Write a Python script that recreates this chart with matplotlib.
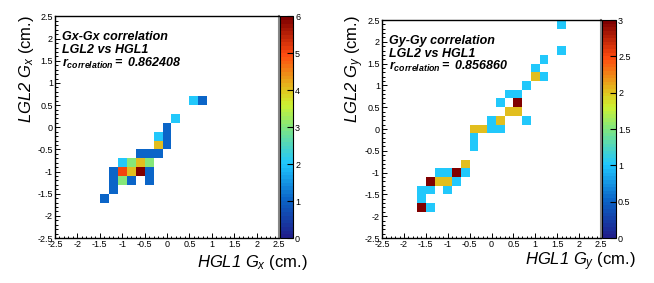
import numpy as np
import matplotlib
matplotlib.use("Agg")
import matplotlib.pyplot as plt
from matplotlib.colors import LinearSegmentedColormap, Normalize
from matplotlib.ticker import MultipleLocator

plt.rcParams['font.family'] = ['Liberation Sans', 'DejaVu Sans']
plt.rcParams['mathtext.fontset'] = 'custom'
plt.rcParams['mathtext.rm'] = 'Liberation Sans:italic'
plt.rcParams['mathtext.it'] = 'Liberation Sans:italic'
plt.rcParams['mathtext.bf'] = 'Liberation Sans:bold'
plt.rcParams['mathtext.bfit'] = 'Liberation Sans:bold:italic'

# bin centres (cm) and counts
gx_hgl1 = [0.6, 0.8, 0.2, 0.0, 0.0, 0.0, -0.2, -0.2, -0.6, -0.4, -0.2,
           -1.0, -0.8, -0.6, -0.4, -1.2, -1.0, -0.8, -0.6, -0.4,
           -1.2, -1.0, -0.8, -0.4, -1.2, -1.4]
gx_lgl2 = [0.6, 0.6, 0.2, 0.0, -0.2, -0.4, -0.2, -0.4, -0.6, -0.6, -0.6,
           -0.8, -0.8, -0.8, -0.8, -1.0, -1.0, -1.0, -1.0, -1.0,
           -1.2, -1.2, -1.2, -1.2, -1.4, -1.6]
gx_counts = [2, 1, 2, 1, 1, 1, 2, 4, 1, 1, 1,
             2, 3, 4, 3, 1, 5, 4, 6, 1,
             1, 3, 1, 1, 1, 1]

gy_hgl1 = [1.6, 1.6, 1.2, 1.0, 1.0, 1.2, 0.8, 0.4, 0.6, 0.2, 0.6, 0.4, 0.6,
           0.0, 0.2, 0.8, -0.4, -0.2, 0.0, 0.2, -0.4, -0.4, -0.6,
           -1.2, -1.0, -0.8, -0.6, -1.4, -1.2, -1.0, -0.8,
           -1.6, -1.4, -1.0, -1.6, -1.6, -1.4]
gy_lgl2 = [2.4, 1.8, 1.6, 1.4, 1.2, 1.2, 1.0, 0.8, 0.8, 0.6, 0.6, 0.4, 0.4,
           0.2, 0.2, 0.2, 0.0, 0.0, 0.0, 0.0, -0.2, -0.4, -0.8,
           -1.0, -1.0, -1.0, -1.0, -1.2, -1.2, -1.2, -1.2,
           -1.4, -1.4, -1.4, -1.6, -1.8, -1.8]
gy_counts = [1, 1, 1, 1, 2, 1, 1, 1, 1, 1, 3, 2, 2,
             1, 2, 1, 2, 2, 1, 1, 1, 1, 2,
             1, 1, 3, 1, 3, 2, 2, 1,
             1, 1, 1, 1, 3, 1]

r_gx = "0.862408"
r_gy = "0.856860"

edges = np.linspace(-2.5, 2.5, 26)

# ROOT-like rainbow palette
stops = [(0.0, (0.12, 0.12, 0.55)),
         (0.1667, (0.04, 0.39, 0.78)),
         (0.3333, (0.12, 0.78, 1.0)),
         (0.5, (0.5, 0.9, 0.5)),
         (0.6, (0.8, 0.95, 0.2)),
         (0.6667, (0.88, 0.78, 0.12)),
         (0.8333, (1.0, 0.29, 0.06)),
         (1.0, (0.5, 0.0, 0.0))]
cmap = LinearSegmentedColormap.from_list("rootrain", stops).resampled(60)

fig = plt.figure(figsize=(6.54, 2.83), dpi=100)


def panel(ax_rect, cb_rect, xs, ys, ws, zmax, zstep, title, rtxt, sub,
          text_x, text_ys, xlab_pos, ylab_pos):
    ax = fig.add_axes(ax_rect)
    cax = fig.add_axes(cb_rect)
    H, _, _ = np.histogram2d(xs, ys, bins=[edges, edges], weights=ws)
    H = np.ma.masked_equal(H.T, 0)
    mesh = ax.pcolormesh(edges, edges, H, cmap=cmap,
                         norm=Normalize(0, zmax), linewidth=0)
    ax.set_xlim(-2.5, 2.5)
    ax.set_ylim(-2.5, 2.5)
    ax.xaxis.set_major_locator(MultipleLocator(0.5))
    ax.yaxis.set_major_locator(MultipleLocator(0.5))
    ax.xaxis.set_minor_locator(MultipleLocator(0.1))
    ax.yaxis.set_minor_locator(MultipleLocator(0.1))
    ax.tick_params(which='both', direction='in', width=0.7, labelsize=6.5, pad=1.5)
    ax.tick_params(which='major', length=3.8)
    ax.tick_params(which='minor', length=1.8)
    ax.xaxis.set_major_formatter(lambda v, p: f"{v:g}")
    ax.yaxis.set_major_formatter(lambda v, p: f"{v:g}")
    for s in ['left', 'bottom', 'top']:
        ax.spines[s].set_linewidth(1.0)
    ax.spines['right'].set_color('#888888')
    ax.spines['right'].set_linewidth(1.5)

    cb = fig.colorbar(mesh, cax=cax)
    cb.set_ticks(np.arange(0, zmax + 0.01, zstep))
    cb.ax.yaxis.set_major_formatter(lambda v, p: f"{v:g}")
    cb.ax.tick_params(direction='in', length=4, width=0.8, labelsize=6.5, pad=1.5)
    cb.ax.minorticks_off()
    cb.outline.set_linewidth(0.8)

    fig.text(text_x, text_ys[0], title, fontsize=9, fontweight='bold',
             style='italic', va='baseline')
    fig.text(text_x, text_ys[1], "LGL2 vs HGL1", fontsize=9,
             fontweight='bold', style='italic', va='baseline')
    fig.text(text_x, text_ys[2],
             r"$\mathbfit{r}_{\mathbfit{correlation}}\mathbfit{=\ " + rtxt + "}$",
             fontsize=9, va='baseline')

    fig.text(xlab_pos[0], xlab_pos[1],
             r"$HGL1\ G_{" + sub + "}$ (cm.)", fontsize=12,
             ha='right', va='center')
    fig.text(ylab_pos[0], ylab_pos[1],
             r"$LGL2\ G_{" + sub + "}$ (cm.)", fontsize=12,
             rotation=90, ha='center', va='top')


panel([0.0841, 0.159, 0.3425, 0.7827], [0.4281, 0.159, 0.0199, 0.7827],
      gx_hgl1, gx_lgl2, gx_counts, 6, 1, "Gx-Gx correlation", r_gx, "x",
      0.0948, [0.8587, 0.811, 0.765], (308 / 654, 0.0707), (0.041, 0.947))

panel([0.5841, 0.159, 0.3349, 0.7703], [0.9205, 0.159, 0.0214, 0.7703],
      gy_hgl1, gy_lgl2, gy_counts, 3, 0.5, "Gy-Gy correlation", r_gy, "y",
      0.5948, [0.846, 0.799, 0.753], (636 / 654, 0.076), (0.543, 0.947))

fig.savefig("out.png", dpi=100)
